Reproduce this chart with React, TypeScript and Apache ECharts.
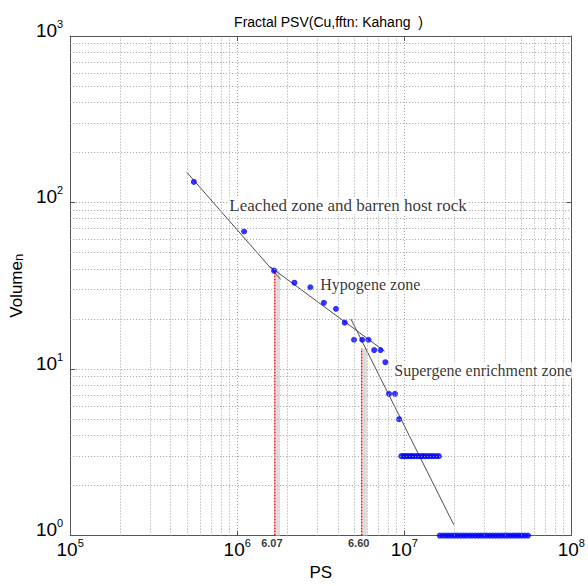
import React, { useEffect, useRef } from "react";
import * as echarts from "echarts";

// Fractal PS–V data (PS on x, normalised volume on y)
const psValues = [5.5e5, 1.1e6, 1.66e6, 2.2e6, 2.74e6, 3.3e6, 3.9e6, 4.4e6, 5.0e6, 5.6e6, 6.1e6, 6.6e6, 7.2e6, 7.7e6, 8.1e6, 8.8e6, 9.3e6];
const volumeValues = [133, 67, 39, 33, 31, 25, 23, 19, 15, 15, 15, 13, 13, 11, 7.1, 7.1, 5];

// PS values of the samples whose volume is 3
const psAtThree = [9.6e6, 9.9e6, 1.02e7, 1.05e7, 1.08e7, 1.11e7, 1.14e7, 1.18e7, 1.22e7, 1.26e7, 1.3e7, 1.34e7, 1.39e7, 1.44e7, 1.49e7, 1.55e7, 1.61e7];
// PS values of the samples whose volume is 1
const psAtOne = [1.63e7, 1.7e7, 1.77e7, 1.84e7, 1.92e7, 2.0e7, 2.08e7, 2.17e7, 2.26e7, 2.35e7, 2.45e7, 2.55e7, 2.66e7, 2.77e7, 2.88e7, 3.0e7, 3.12e7, 3.25e7, 3.38e7, 3.52e7, 3.67e7, 3.82e7, 3.98e7, 4.14e7, 4.31e7, 4.49e7, 4.67e7, 4.86e7, 5.06e7, 5.27e7, 5.5e7];

// Fitted straight segments (start, end) for the three zones
const leachedFit = [[4.99e5, 152], [1.82e6, 34.5]];
const hypogeneFit = [[1.57e6, 41.2], [7.62e6, 12.8]];
const supergeneFit = [[4.79e6, 20], [1.98e7, 1.16]];

// Break points between zones
const breakPs = [1.68e6, 5.56e6];
const breakTop = [39, 13.3];
const breakLabels = ["6.07", "6.60"];

// Zone annotations: anchor (left edge of text)
const zoneNames = ["Leached zone and barren host rock", "Hypogene zone", "Supergene enrichment zone"];
const zonePs = [8.85e5, 3.1e6, 8.6e6];
const zoneVolume = [96, 32.3, 9.86];
const zoneFontSizes = [17, 16, 16];

// Log-axis ranges and grid multipliers
const xDecades = [1e5, 1e6, 1e7];
const yDecades = [1, 10, 100];
const minorMultipliers = [2, 3, 4, 5, 6, 7, 8, 9];

const SANS = "Liberation Sans, Arial, Helvetica, sans-serif";
const SERIF = "Liberation Serif, Times New Roman, serif";
const GRID_COLOR = "#a0a0a0";
const BOX_COLOR = "#555";

function powerLabel(v: number) {
  const e = Math.round(Math.log10(v));
  return `{b|10}{s|${e}}`;
}

const powerRich = {
  b: { fontSize: 19, lineHeight: 24, fontFamily: SANS, color: "#000" },
  s: { fontSize: 11, lineHeight: 11, verticalAlign: "top", fontFamily: SANS, color: "#000" },
};

export default function App() {
  const ref = useRef<HTMLDivElement>(null);

  useEffect(() => {
    if (!ref.current) return;
    const chart = echarts.init(ref.current, undefined, { renderer: "svg" });

    const minorX: number[] = [];
    xDecades.forEach((d) => minorMultipliers.forEach((m) => minorX.push(d * m)));
    const minorY: number[] = [];
    yDecades.forEach((d) => minorMultipliers.forEach((m) => minorY.push(d * m)));

    const gridLineStyle = { color: GRID_COLOR, type: [1, 2] as number[], width: 1 };

    const series: any[] = [];

    // minor grid lines
    series.push({
      type: "line",
      data: [[1e5, 1]],
      symbol: "none",
      silent: true,
      z: 0,
      lineStyle: { opacity: 0 },
      markLine: {
        silent: true,
        symbol: ["none", "none"],
        label: { show: false },
        lineStyle: gridLineStyle,
        animation: false,
        data: [
          ...minorX.map((v) => ({ xAxis: v })),
          ...minorY.map((v) => ({ yAxis: v })),
        ],
      },
    });

    // break-point drop lines
    breakPs.forEach((p, i) => {
      series.push({
        type: "line",
        data: [[p * 1.045, 1], [p * 1.045, breakTop[i]]],
        symbol: "none",
        silent: true,
        z: 1,
        lineStyle: { color: "#dcdcdc", width: 4 },
      });
      series.push({
        type: "line",
        data: [[p, 1], [p, breakTop[i]]],
        symbol: "none",
        silent: true,
        z: 2,
        lineStyle: { color: "#e8141a", width: 1.5, type: [2, 1] },
      });
    });

    // fitted segments
    [leachedFit, hypogeneFit, supergeneFit].forEach((seg) => {
      series.push({
        type: "line",
        data: seg,
        symbol: "none",
        silent: true,
        z: 3,
        lineStyle: { color: "#4d4d4d", width: 1 },
      });
    });

    // samples
    const points = [
      ...psValues.map((p, i) => [p, volumeValues[i]]),
      ...psAtThree.map((p) => [p, 3]),
      ...psAtOne.map((p) => [p, 1]),
    ];
    series.push({
      type: "scatter",
      data: points,
      symbol: "circle",
      symbolSize: 6,
      clip: false,
      z: 4,
      itemStyle: { color: "#0000ff" },
    });

    // break labels under the axis
    series.push({
      type: "scatter",
      data: breakPs.map((p) => [p, 1]),
      symbolSize: 0,
      clip: false,
      silent: true,
      z: 5,
      label: {
        show: true,
        position: "bottom",
        distance: 2,
        offset: [-3, 0],
        formatter: (p: any) => breakLabels[p.dataIndex],
        fontSize: 11,
        fontWeight: "bold",
        fontFamily: SANS,
        color: "#000",
      },
    });

    // zone annotations
    series.push({
      type: "scatter",
      data: zonePs.map((p, i) => ({
        value: [p, zoneVolume[i]],
        label: { fontSize: zoneFontSizes[i] },
      })),
      symbolSize: 0,
      clip: false,
      silent: true,
      z: 6,
      label: {
        show: true,
        position: "right",
        distance: 0,
        formatter: (p: any) => zoneNames[p.dataIndex],
        fontSize: 16,
        fontFamily: SERIF,
        color: "#000",
        backgroundColor: "#fff",
        padding: [0, 1],
      },
    });

    const option: any = {
      animation: false,
      backgroundColor: "#fff",
      title: {
        text: "Fractal PSV(Cu,fftn: Kahang  )",
        left: 323.5,
        top: 10,
        textAlign: "center",
        textStyle: { fontSize: 14, fontWeight: "normal", fontFamily: SANS, color: "#000" },
      },
      grid: { left: 70, top: 36, width: 507, height: 507 },
      xAxis: [
        {
          type: "log",
          logBase: 10,
          min: 1e5,
          max: 1e8,
          name: "PS",
          nameLocation: "middle",
          nameGap: 28,
          nameTextStyle: { fontSize: 17, fontFamily: SANS, color: "#000" },
          axisLine: { show: true, lineStyle: { color: BOX_COLOR, width: 1 } },
          axisTick: { show: true, inside: true, length: 5, lineStyle: { color: BOX_COLOR } },
          axisLabel: { formatter: powerLabel, rich: powerRich, margin: 2 },
          splitLine: { show: true, lineStyle: gridLineStyle },
        },
        {
          type: "log",
          logBase: 10,
          min: 1e5,
          max: 1e8,
          position: "top",
          axisLine: { show: true, lineStyle: { color: BOX_COLOR, width: 1 } },
          axisTick: { show: true, inside: true, length: 5, lineStyle: { color: BOX_COLOR } },
          axisLabel: { show: false },
          splitLine: { show: false },
        },
      ],
      yAxis: [
        {
          type: "log",
          logBase: 10,
          min: 1,
          max: 1000,
          name: "Volume{n|n}",
          nameLocation: "middle",
          nameGap: 30,
          nameRotate: 90,
          nameTextStyle: {
            fontSize: 17,
            fontFamily: SANS,
            color: "#000",
            rich: { n: { fontSize: 13, fontFamily: SANS, verticalAlign: "bottom", lineHeight: 12 } },
          },
          axisLine: { show: true, lineStyle: { color: BOX_COLOR, width: 1 } },
          axisTick: { show: true, inside: true, length: 5, lineStyle: { color: BOX_COLOR } },
          axisLabel: { formatter: powerLabel, rich: powerRich, margin: 7, padding: [0, 0, 12, 0] },
          splitLine: { show: true, lineStyle: gridLineStyle },
        },
        {
          type: "log",
          logBase: 10,
          min: 1,
          max: 1000,
          position: "right",
          axisLine: { show: true, lineStyle: { color: BOX_COLOR, width: 1 } },
          axisTick: { show: true, inside: true, length: 5, lineStyle: { color: BOX_COLOR } },
          axisLabel: { show: false },
          splitLine: { show: false },
        },
      ],
      series,
    };

    chart.setOption(option);
    return () => chart.dispose();
  }, []);

  return (
    <div
      ref={ref}
      style={{ position: "fixed", left: 0, top: 0, width: 588, height: 586, background: "#fff" }}
    />
  );
}
